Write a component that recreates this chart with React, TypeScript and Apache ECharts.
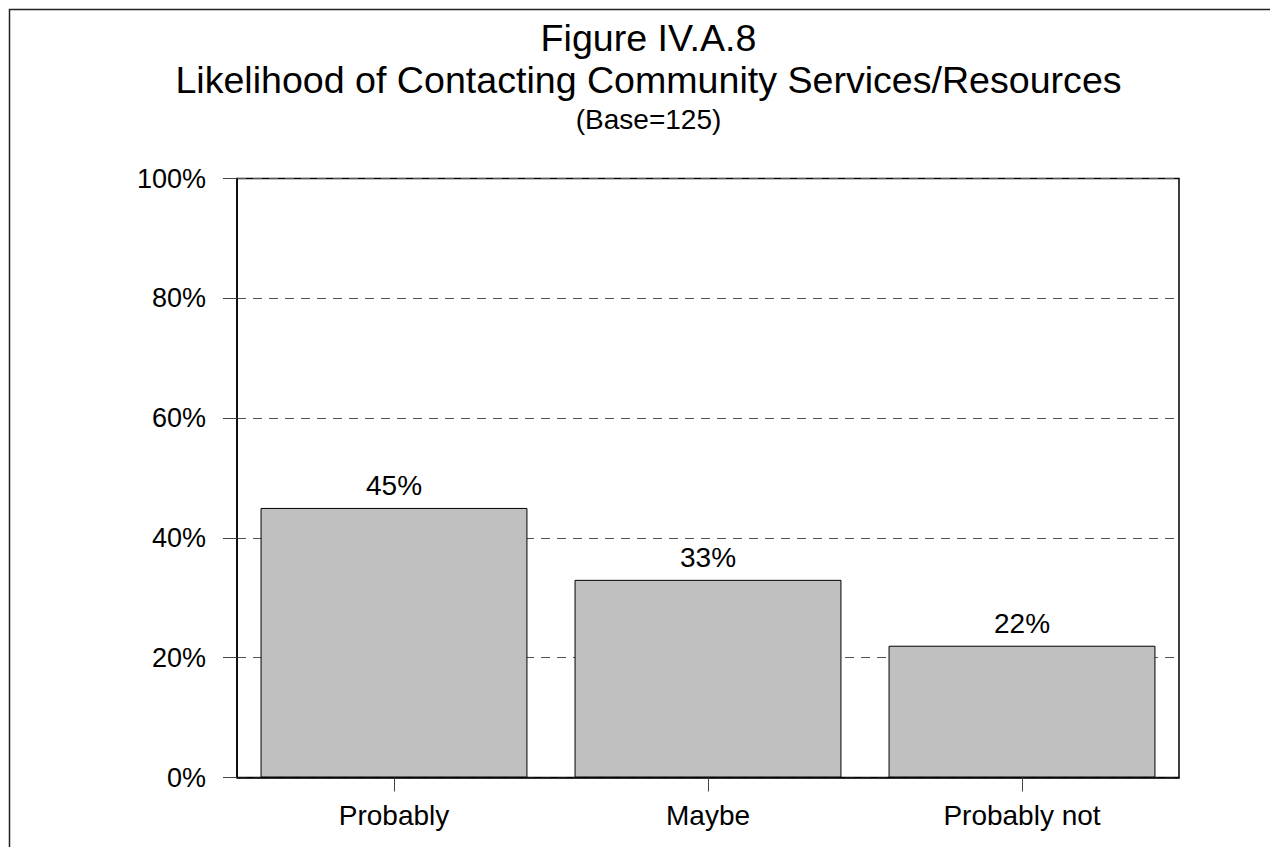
import React, { useEffect, useRef } from "react";
import * as echarts from "echarts";

const titleLines = ["Figure IV.A.8", "Likelihood of Contacting Community Services/Resources"];
const subtitle = "(Base=125)";
const categories = ["Probably", "Maybe", "Probably not"];
const values = [45, 33, 22];
const yTicks = [0, 20, 40, 60, 80, 100];

const FONT = "'Liberation Sans', Arial, Helvetica, sans-serif";

export default function App() {
  const ref = useRef<HTMLDivElement>(null);
  useEffect(() => {
    if (!ref.current) return;
    const chart = echarts.init(ref.current, undefined, { renderer: "svg" });
    chart.setOption({
      animation: false,
      backgroundColor: "#ffffff",
      textStyle: { fontFamily: FONT, color: "#000" },
      graphic: [
        {
          type: "rect",
          shape: { x: 1.5, y: 1.5, width: 3000, height: 3000 },
          style: { fill: "none", stroke: "#222", lineWidth: 1.5 },
          silent: true,
        },
        {
          type: "text",
          x: 640.5,
          y: 30,
          style: { text: titleLines[0], font: `37.6px ${FONT}`, fill: "#000", textAlign: "center", textVerticalAlign: "middle" },
        },
        {
          type: "text",
          x: 640.5,
          y: 71.5,
          style: { text: titleLines[1], font: `37.6px ${FONT}`, fill: "#000", textAlign: "center", textVerticalAlign: "middle" },
        },
        {
          type: "text",
          x: 640.5,
          y: 111,
          style: { text: subtitle, font: `28px ${FONT}`, fill: "#000", textAlign: "center", textVerticalAlign: "middle" },
        },
      ],
      grid: {
        left: 229,
        right: 99,
        top: 170.5,
        bottom: 69.5,
        show: true,
        borderColor: "#000",
        borderWidth: 1.5,
        backgroundColor: "transparent",
      },
      xAxis: {
        type: "category",
        data: categories,
        axisLine: { show: true, lineStyle: { color: "#000", width: 1.5 } },
        axisTick: { show: true, alignWithLabel: true, length: 14, lineStyle: { color: "#444", width: 1 } },
        axisLabel: { fontSize: 28, fontFamily: FONT, color: "#000", margin: 24 },
        splitLine: { show: false },
      },
      yAxis: {
        type: "value",
        min: yTicks[0],
        max: yTicks[yTicks.length - 1],
        interval: 20,
        axisLine: { show: true, lineStyle: { color: "#000", width: 1.5 } },
        axisTick: { show: true, length: 14, lineStyle: { color: "#444", width: 1 } },
        axisLabel: { fontSize: 27, fontFamily: FONT, color: "#000", margin: 31, formatter: "{value}%" },
        splitLine: { show: true, lineStyle: { color: "#555", type: [9, 7], width: 1 } },
      },
      series: [
        {
          type: "bar",
          data: values,
          barCategoryGap: "15%",
          itemStyle: { color: "#c0c0c0", borderColor: "#000", borderWidth: 1 },
          label: {
            show: true,
            position: "top",
            distance: 8,
            formatter: "{c}%",
            fontSize: 28,
            fontFamily: FONT,
            color: "#000",
          },
        },
      ],
    });
    return () => chart.dispose();
  }, []);
  return <div ref={ref} style={{ width: 1270, height: 839 }} />;
}
